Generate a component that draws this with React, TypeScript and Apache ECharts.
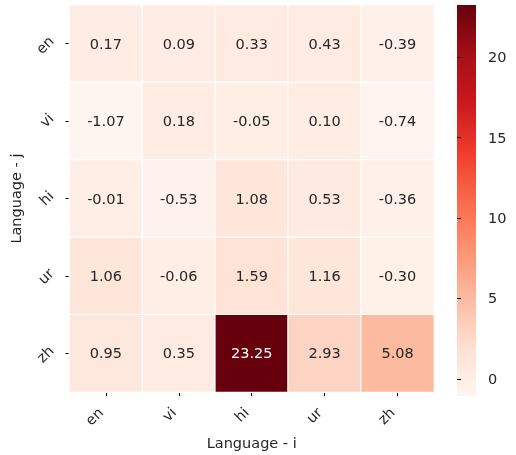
import React, { useEffect, useRef } from "react";
import * as echarts from "echarts";

const langI = ["en", "vi", "hi", "ur", "zh"];
const langJ = ["en", "vi", "hi", "ur", "zh"];
const rowEn = [0.17, 0.09, 0.33, 0.43, -0.39];
const rowVi = [-1.07, 0.18, -0.05, 0.1, -0.74];
const rowHi = [-0.01, -0.53, 1.08, 0.53, -0.36];
const rowUr = [1.06, -0.06, 1.59, 1.16, -0.3];
const rowZh = [0.95, 0.35, 23.25, 2.93, 5.08];
const colorbarTicks = [0, 5, 10, 15, 20];
const reds = ["#fff5f0", "#fee0d2", "#fcbba1", "#fc9272", "#fb6a4a", "#ef3b2c", "#cb181d", "#a50f15", "#67000d"];

const FONT = "DejaVu Sans";
const FS = 14.5;

export default function App() {
  const ref = useRef<HTMLDivElement>(null);
  useEffect(() => {
    if (!ref.current) return;
    const chart = echarts.init(ref.current, null, { renderer: "svg" });
    const rows = [rowEn, rowVi, rowHi, rowUr, rowZh];
    const all = rows.flat();
    const vmin = Math.min(...all);
    const vmax = Math.max(...all);
    const data: any[] = [];
    rows.forEach((row, j) => {
      row.forEach((v, i) => {
        const t = (v - vmin) / (vmax - vmin);
        data.push({
          value: [i, j, v],
          label: { color: t > 0.6 ? "#ffffff" : "#262626" },
        });
      });
    });
    const gradStops = reds.map((c, k) => ({ offset: k / (reds.length - 1), color: c }));
    chart.setOption({
      animation: false,
      textStyle: { fontFamily: FONT },
      grid: [
        { left: 69, top: 5, width: 365, height: 390 },
        { left: 457, top: 5, width: 19, height: 391 },
      ],
      graphic: [
        {
          type: "rect",
          left: 457,
          top: 5,
          shape: { width: 19, height: 391 },
          style: {
            fill: new echarts.graphic.LinearGradient(0, 1, 0, 0, gradStops),
          },
          silent: true,
        },
      ],
      xAxis: [
        {
          type: "category",
          data: langI,
          gridIndex: 0,
          axisLine: { show: false },
          axisTick: { show: true, alignWithLabel: true, length: 4, lineStyle: { color: "#000" } },
          axisLabel: {
            rotate: 45,
            margin: 23,
            verticalAlign: "bottom",
            fontSize: FS,
            color: "#262626",
            fontFamily: FONT,
          },
          name: "Language - i",
          nameLocation: "middle",
          nameGap: 40,
          nameTextStyle: { fontSize: FS, color: "#262626", fontFamily: FONT },
          splitLine: { show: false },
        },
        { type: "value", gridIndex: 1, show: false, min: 0, max: 1 },
      ],
      yAxis: [
        {
          type: "category",
          data: langJ,
          gridIndex: 0,
          inverse: true,
          axisLine: { show: false },
          axisTick: { show: true, alignWithLabel: true, length: 4, lineStyle: { color: "#000" } },
          axisLabel: {
            rotate: 45,
            margin: 13,
            verticalAlign: "bottom",
            fontSize: FS,
            color: "#262626",
            fontFamily: FONT,
          },
          name: "Language - j",
          nameLocation: "middle",
          nameGap: 37,
          nameTextStyle: { fontSize: FS, color: "#262626", fontFamily: FONT },
          splitLine: { show: false },
        },
        {
          type: "value",
          gridIndex: 1,
          position: "right",
          min: vmin,
          max: vmax,
          axisLine: { show: false },
          splitLine: { show: false },
          axisTick: { show: true, length: 4, lineStyle: { color: "#000" }, customValues: colorbarTicks },
          axisLabel: { margin: 12, fontSize: FS, color: "#262626", fontFamily: FONT, customValues: colorbarTicks },
        },
      ],
      visualMap: {
        type: "continuous",
        min: vmin,
        max: vmax,
        seriesIndex: 0,
        show: false,
        inRange: { color: reds },
      },
      series: [
        {
          type: "heatmap",
          xAxisIndex: 0,
          yAxisIndex: 0,
          data,
          label: {
            show: true,
            fontSize: FS,
            fontFamily: FONT,
            formatter: (p: any) => p.value[2].toFixed(2),
          },
          itemStyle: { borderColor: "#ffffff", borderWidth: 1.2 },
          emphasis: { disabled: true },
        },
        {
          type: "scatter",
          xAxisIndex: 1,
          yAxisIndex: 1,
          data: [],
        },
      ],
    });
    return () => chart.dispose();
  }, []);
  return (
    <div
      ref={ref}
      style={{ position: "fixed", left: 0, top: 0, width: 516, height: 455 }}
    />
  );
}
